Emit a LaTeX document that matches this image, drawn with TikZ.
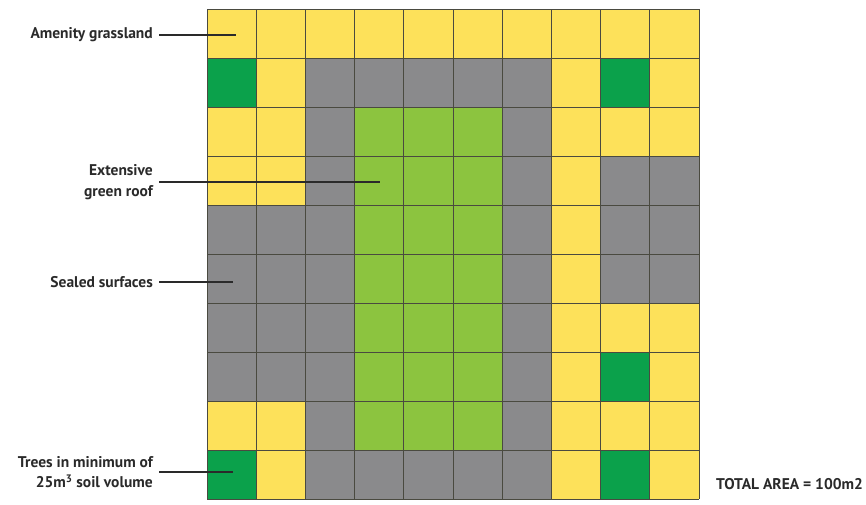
\documentclass[tikz,border=0pt]{standalone}
\usepackage{fontspec}
\setmainfont{PT Sans}
\definecolor{cY}{HTML}{FDE15A}
\definecolor{cD}{HTML}{0BA14B}
\definecolor{cG}{HTML}{8A8A8C}
\definecolor{cL}{HTML}{8CC43F}
\definecolor{gline}{HTML}{4A4A40}
\definecolor{txt}{HTML}{2A2A2A}
\begin{document}
\begin{tikzpicture}[x=1pt,y=-1pt,
  lab/.style={anchor=east,inner xsep=3pt,inner ysep=0pt,text=txt,font=\bfseries\fontsize{15.5}{20.5}\selectfont,align=right},
  leader/.style={draw=txt,line width=1.1pt},
  gridl/.style={draw=gline,line width=1pt}]
\useasboundingbox (0,0) rectangle (866,504);
\fill[white] (0,0) rectangle (866,504);
\foreach \row [count=\r from 0] in {
  {cY,cY,cY,cY,cY,cY,cY,cY,cY,cY},
  {cD,cY,cG,cG,cG,cG,cG,cY,cD,cY},
  {cY,cY,cG,cL,cL,cL,cG,cY,cY,cY},
  {cY,cY,cG,cL,cL,cL,cG,cY,cG,cG},
  {cG,cG,cG,cL,cL,cL,cG,cY,cG,cG},
  {cG,cG,cG,cL,cL,cL,cG,cY,cG,cG},
  {cG,cG,cG,cL,cL,cL,cG,cY,cY,cY},
  {cG,cG,cG,cL,cL,cL,cG,cY,cD,cY},
  {cY,cY,cG,cL,cL,cL,cG,cY,cY,cY},
  {cD,cY,cG,cG,cG,cG,cG,cY,cD,cY}}{
  \foreach \c [count=\k from 0] in \row {
    \fill[\c] (207+\k*49.2,9+\r*49) rectangle ++(49.2,49);
  }
}
\foreach \i in {0,...,10}{
  \draw[gridl] (207+\i*49.2,9) -- (207+\i*49.2,499);
  \draw[gridl] (207,9+\i*49) -- (699,9+\i*49);
}
\coordinate (pAG) at (236,35);
\coordinate (pGR) at (380,182);
\coordinate (pSS) at (233,282);
\coordinate (pTR) at (233,472);
\node[lab] (ag) at (156,35) {Amenity grassland};
\node[lab] (gr) at (156,182) {Extensive\\green roof};
\node[lab] (ss) at (156,282) {Sealed surfaces};
\node[lab] (tr) at (156,472) {Trees in minimum of\\25m\textsuperscript{3} soil volume};
\node[anchor=west,inner sep=0pt,text=txt,font=\bfseries\fontsize{15.5}{17}\selectfont] (ta) at (716,484) {TOTAL AREA = 100m2};
\draw[leader] ([xshift=3pt]ag.east) -- (pAG);
\draw[leader] ([xshift=3pt]gr.east) -- (pGR);
\draw[leader] ([xshift=3pt]ss.east) -- (pSS);
\draw[leader] ([xshift=3pt]tr.east) -- (pTR);
\end{tikzpicture}
\end{document}
